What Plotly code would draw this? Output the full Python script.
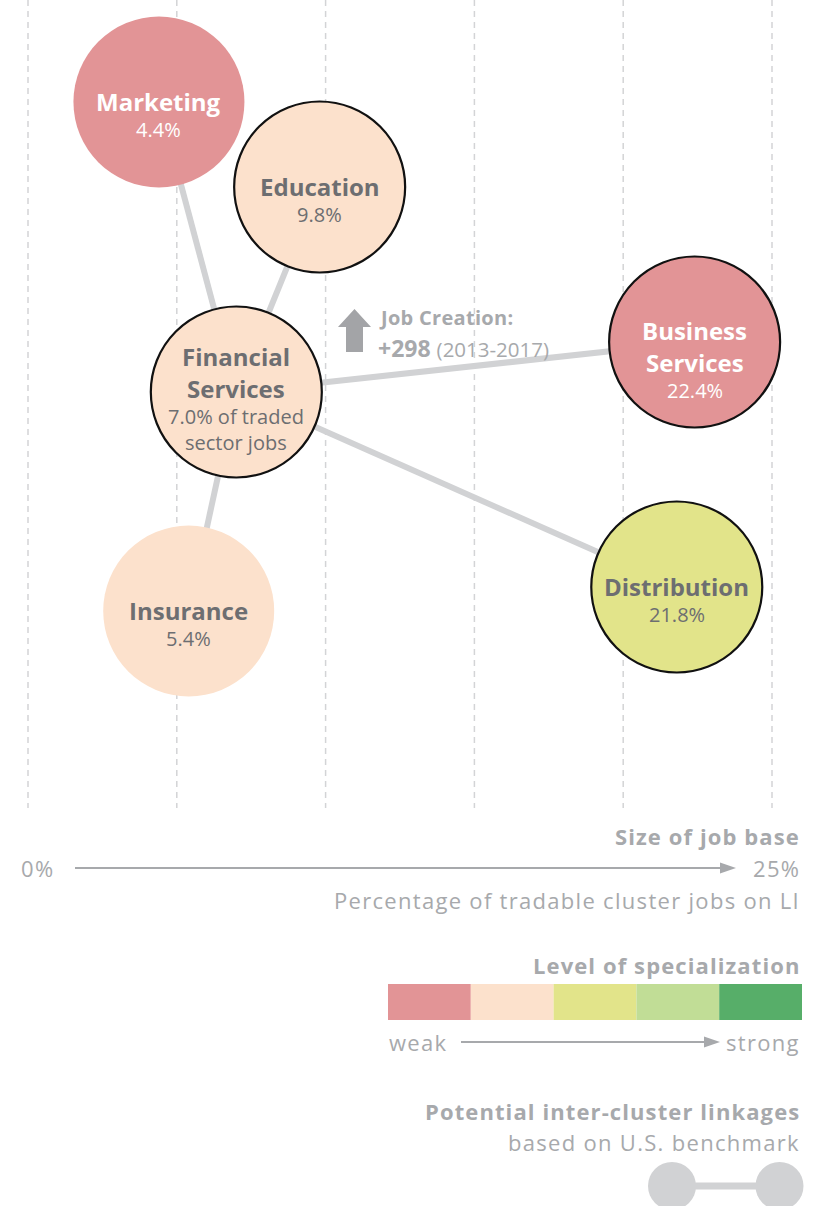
import plotly.graph_objects as go

# ---- data -----------------------------------------------------------------
clusters = ["Marketing", "Education", "Financial Services",
            "Business Services", "Distribution", "Insurance"]
display_names = ["Marketing", "Education", "Financial<br>Services",
                 "Business<br>Services", "Distribution", "Insurance"]
job_share = [4.4, 9.8, 7.0, 22.4, 21.8, 5.4]          # % of tradable cluster jobs
row_pos = [102, 187, 392, 342, 587, 611]              # vertical layout slot
spec_level = [0, 1, 1, 0, 2, 1]                       # 0 = weak ... 4 = strong
outlined = [False, True, True, True, True, False]
focus_cluster = "Financial Services"
linked = ["Marketing", "Education", "Business Services", "Distribution", "Insurance"]
job_creation = 298
job_period = "2013-2017"
x_ticks = [0, 5, 10, 15, 20, 25]
spec_colors = ["#e29496", "#fce1cc", "#e2e48a", "#c1dd96", "#57ae69"]

# ---- styling --------------------------------------------------------------
W, H = 817, 1206
FONT = "Open Sans"
DARK = "#6d6e71"
LIGHT = "#a7a9ac"
LINK = "#d1d2d4"
GRID_BOTTOM = 808
PX_PER_PCT = 148.8 / 5
X0 = 28
TEXT_NUDGE = {"Financial Services": -6, "Business Services": 5}

x_range = [-X0 / PX_PER_PCT, (W - X0) / PX_PER_PCT]


def px(x):
    return x / W


def py(y):
    return 1 - y / H


def spaced(text, ls):
    return f"<span style='letter-spacing:{ls}px'>{text}</span>"


fig = go.Figure()

# dashed vertical guides at the scale ticks
for t in x_ticks:
    fig.add_trace(go.Scatter(
        x=[t, t], y=[0, GRID_BOTTOM], mode="lines",
        line=dict(color="#d3d4d6", width=1.5, dash="6px,5px"),
        hoverinfo="skip", showlegend=False))

# inter-cluster links
idx = {c: i for i, c in enumerate(clusters)}
fi = idx[focus_cluster]
for other in linked:
    oi = idx[other]
    fig.add_trace(go.Scatter(
        x=[job_share[fi], job_share[oi]], y=[row_pos[fi], row_pos[oi]],
        mode="lines", line=dict(color=LINK, width=6),
        hoverinfo="skip", showlegend=False))

# cluster bubbles
fig.add_trace(go.Scatter(
    x=job_share, y=row_pos, mode="markers",
    marker=dict(size=171,
                color=[spec_colors[s] for s in spec_level],
                line=dict(color=["#111111" if o else "rgba(0,0,0,0)" for o in outlined],
                          width=2.2),
                opacity=1),
    hovertext=clusters, hoverinfo="text", showlegend=False))

annotations = []
NAME_GAP, SUB_GAP, SUB_LINE = 32, 28, 26
for i, name in enumerate(clusters):
    name_lines = display_names[i].split("<br>")
    if name == focus_cluster:
        sub_lines = [f"{job_share[i]:.1f}% of traded", "sector jobs"]
    else:
        sub_lines = [f"{job_share[i]:.1f}%"]
    color = "white" if spec_level[i] == 0 else DARK
    offsets = []
    y = 0
    for _ in name_lines:
        offsets.append(y)
        y += NAME_GAP
    y += SUB_GAP - NAME_GAP
    for _ in sub_lines:
        offsets.append(y)
        y += SUB_LINE
    base = row_pos[i] + 13 - offsets[-1] / 2 + TEXT_NUDGE.get(name, 0)
    texts = [(t, 24, True) for t in name_lines] + [(t, 20, False) for t in sub_lines]
    for (t, size, bold), off in zip(texts, offsets):
        annotations.append(dict(
            x=job_share[i], y=base + off, xref="x", yref="y",
            text=f"<b>{t}</b>" if bold else t, showarrow=False,
            xanchor="center", yanchor="middle",
            font=dict(family=FONT, size=size, color=color)))

# job creation call-out
annotations.append(dict(x=px(377), y=py(317), xref="paper", yref="paper",
                        text="<b>" + spaced("Job Creation:", 0.3) + "</b>", showarrow=False,
                        xanchor="left", yanchor="middle",
                        font=dict(family=FONT, size=20, color=LIGHT)))
annotations.append(dict(x=px(376), y=py(348), xref="paper", yref="paper",
                        text=f"<b>+{job_creation}</b> <span style='font-size:20.5px'>({job_period})</span>",
                        showarrow=False, xanchor="left", yanchor="middle",
                        font=dict(family=FONT, size=23, color=LIGHT)))

shapes = []


def path(points):
    return "M " + " L ".join(f"{px(x):.5f},{py(y):.5f}" for x, y in points) + " Z"


shapes.append(dict(type="path", xref="paper", yref="paper",
                   path=path([(338, 327), (354.5, 309), (371, 327), (363, 327),
                              (363, 352), (346, 352), (346, 327)]),
                   fillcolor="#a3a4a7", line=dict(width=0)))


# ---- legend helpers ---------------------------------------------------------
def legend_text(x, y, text, anchor="right", bold=False):
    ls = 1.1 if bold else 1.3
    size = 22
    body = spaced(text, ls)
    if anchor == "right":
        x += ls
    annotations.append(dict(x=px(x), y=py(y), xref="paper", yref="paper",
                            text=f"<b>{body}</b>" if bold else body,
                            showarrow=False, xanchor=anchor, yanchor="middle",
                            font=dict(family=FONT, size=size, color=LIGHT)))


def arrow(x0, x1, y):
    shapes.append(dict(type="line", xref="paper", yref="paper",
                       x0=px(x0), y0=py(y), x1=px(x1 - 12), y1=py(y),
                       line=dict(color=LIGHT, width=2)))
    shapes.append(dict(type="path", xref="paper", yref="paper",
                       path=path([(x1 - 16, y - 5.5), (x1, y), (x1 - 16, y + 5.5)]),
                       fillcolor=LIGHT, line=dict(width=0)))


# ---- legend: size of job base ---------------------------------------------
legend_text(801, 836, "Size of job base", bold=True)
legend_text(19, 868, f"{x_ticks[0]}%", anchor="left")
legend_text(801, 868, f"{x_ticks[-1]}%")
legend_text(801, 900, "Percentage of tradable cluster jobs on LI")
arrow(75, 736, 868)

# ---- legend: level of specialization --------------------------------------
legend_text(801, 965, "Level of specialization", bold=True)
seg_w = (802 - 388) / len(spec_colors)
for k, c in enumerate(spec_colors):
    shapes.append(dict(type="rect", xref="paper", yref="paper",
                       x0=px(388 + k * seg_w), x1=px(388 + (k + 1) * seg_w),
                       y0=py(1020), y1=py(984), fillcolor=c, line=dict(width=0)))
legend_text(387, 1042, "weak", anchor="left")
legend_text(801, 1042, "strong")
arrow(461, 720, 1042)

# ---- legend: linkages -----------------------------------------------------
legend_text(801, 1111, "Potential inter-cluster linkages", bold=True)
legend_text(801, 1142, "based on U.S. benchmark")
shapes.append(dict(type="line", xref="paper", yref="paper",
                   x0=px(672), y0=py(1186), x1=px(780), y1=py(1186),
                   line=dict(color=LINK, width=7)))
for cx in (672, 779.5):
    shapes.append(dict(type="circle", xref="paper", yref="paper",
                       x0=px(cx - 24), x1=px(cx + 24),
                       y0=py(1186 + 24), y1=py(1186 - 24),
                       fillcolor=LINK, line=dict(width=0)))

fig.update_layout(
    width=W, height=H,
    margin=dict(l=0, r=0, t=0, b=0),
    paper_bgcolor="white", plot_bgcolor="white",
    xaxis=dict(range=x_range, visible=False, fixedrange=True),
    yaxis=dict(range=[H, 0], visible=False, fixedrange=True),
    annotations=annotations, shapes=shapes,
    showlegend=False,
)

fig.write_html("out.html")
